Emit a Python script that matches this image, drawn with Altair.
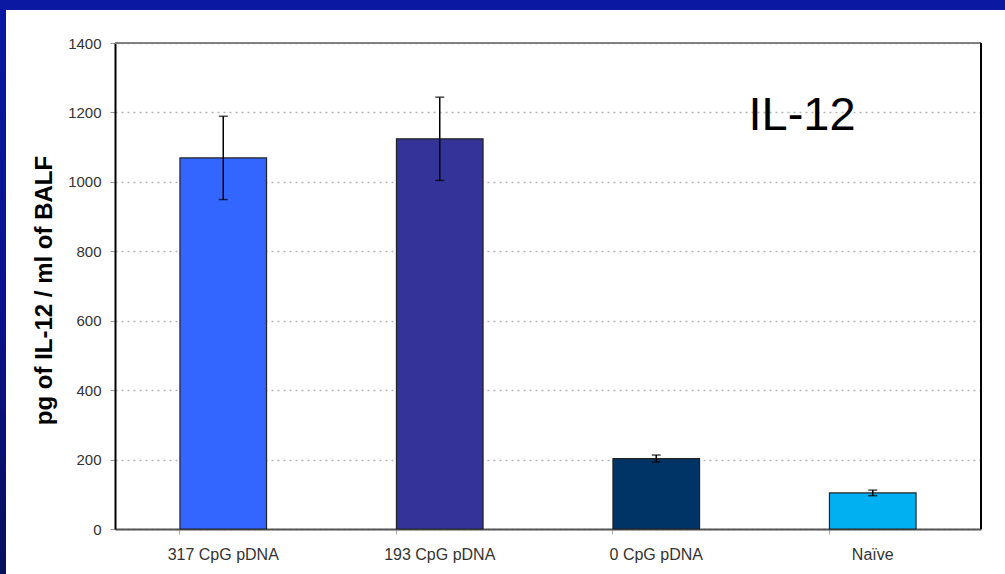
import altair as alt
import pandas as pd

# IL-12 in bronchoalveolar lavage fluid by treatment group
groups = ["317 CpG pDNA", "193 CpG pDNA", "0 CpG pDNA", "Naïve"]
il12 = [1069, 1124, 203, 104]
sem = [120, 120, 10, 8]
bar_colors = ["#3366ff", "#333399", "#003366", "#00b0f0"]
y_ticks = [0, 200, 400, 600, 800, 1000, 1200, 1400]

df = pd.DataFrame({"group": groups, "value": il12, "err": sem})
df["lo"] = df["value"] - df["err"]
df["hi"] = df["value"] + df["err"]

W, H = 866, 486
PAD = {"left": 115, "top": 43, "right": 1005 - 115 - W, "bottom": 574 - 43 - H}
FONT = "Liberation Sans"

one = pd.DataFrame({"k": [0]})

# blue slide frame: band along the top and a darkening strip on the left
top_band = alt.Chart(one).mark_rect(color="#0a18a2").encode(
    x=alt.value(-PAD["left"]), x2=alt.value(W + PAD["right"]),
    y=alt.value(-PAD["top"]), y2=alt.value(-33),
)
edge = alt.Chart(one).mark_rect(
    color=alt.Gradient(
        gradient="linear", x1=0, y1=0, x2=0, y2=1,
        stops=[alt.GradientStop(color="#0a18a2", offset=0),
               alt.GradientStop(color="#0a1290", offset=0.5),
               alt.GradientStop(color="#08105c", offset=1)],
    )
).encode(
    x=alt.value(-PAD["left"]), x2=alt.value(-109),
    y=alt.value(-PAD["top"]), y2=alt.value(H + PAD["bottom"]),
)

x_enc = alt.X(
    "group:N", sort=groups,
    scale=alt.Scale(paddingInner=0.6, paddingOuter=0.3),
    axis=alt.Axis(
        title=None, labelAngle=0, bandPosition=0,
        labelFont=FONT, labelFontSize=16, labelColor="#333333", labelPadding=12,
        tickColor="#aaaaaa", tickSize=5, tickWidth=1,
        domainColor="#555555", domainWidth=2, grid=False,
    ),
)
y_scale = alt.Scale(domain=[0, 1400], nice=False)

bars = alt.Chart(df).mark_bar(stroke="#222222", strokeWidth=1.2).encode(
    x=x_enc,
    y=alt.Y(
        "value:Q", scale=y_scale,
        axis=alt.Axis(
            values=y_ticks, format="d", title="pg of IL-12 / ml of BALF",
            titleFont=FONT, titleFontSize=24, titleFontWeight="bold", titleColor="black",
            titleAngle=270, titleAlign="center", titleBaseline="middle",
            titleX=-71, titleY=247,
            labelFont=FONT, labelFontSize=15, labelColor="#333333", labelPadding=9,
            tickColor="#999999", tickSize=5,
            domainColor="black", domainWidth=2,
            grid=True, gridColor="#b4b4b4", gridDash=[2, 4], gridWidth=1.3,
        ),
    ),
    color=alt.Color("group:N", sort=groups,
                    scale=alt.Scale(domain=groups, range=bar_colors), legend=None),
)

whisker = alt.Chart(df).mark_rule(color="black", strokeWidth=1.5).encode(
    x=alt.X("group:N", sort=groups), y=alt.Y("lo:Q", scale=y_scale), y2="hi:Q"
)
cap_hi = alt.Chart(df).mark_tick(color="black", size=9, thickness=1.5, orient="horizontal").encode(
    x=alt.X("group:N", sort=groups), y=alt.Y("hi:Q", scale=y_scale)
)
cap_lo = alt.Chart(df).mark_tick(color="black", size=9, thickness=1.5, orient="horizontal").encode(
    x=alt.X("group:N", sort=groups), y=alt.Y("lo:Q", scale=y_scale)
)

# frame: top at 1400 is grey, right side is black
top_rule = alt.Chart(one).mark_rule(color="#808080", strokeWidth=2).encode(
    x=alt.value(0), x2=alt.value(W), y=alt.datum(1400)
)
right_rule = alt.Chart(one).mark_rule(color="black", strokeWidth=2).encode(
    x=alt.value(W), y=alt.value(0), y2=alt.value(H)
)

label = alt.Chart(one).mark_text(
    text="IL-12", font=FONT, fontSize=47, color="black",
    align="center", baseline="middle",
).encode(x=alt.value(687), y=alt.datum(1200), yOffset=alt.value(4))

chart = alt.layer(
    bars, whisker, cap_hi, cap_lo, top_rule, right_rule, label, top_band, edge
).properties(
    width=W, height=H,
    autosize=alt.AutoSizeParams(type="none"),
    padding=PAD,
    background="white",
).configure_view(stroke=None)

chart.save("out.html", embed_options={"renderer": "svg", "actions": False})
